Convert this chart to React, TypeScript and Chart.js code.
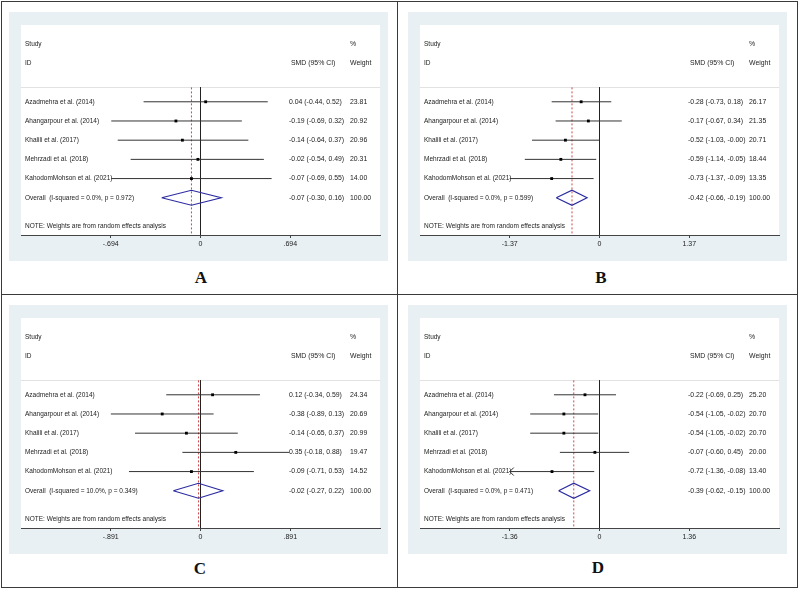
import React, { useEffect, useRef } from "react";
import { Chart, registerables } from "chart.js";
Chart.register(...registerables);

// ---------- data ----------
const studies = [
  "Azadmehra et al. (2014)",
  "Ahangarpour et al. (2014)",
  "Khalili et al. (2017)",
  "Mehrzadi et al. (2018)",
  "KahodomMohson et al. (2021)",
];

// Panel A
const smdA = [0.04, -0.19, -0.14, -0.02, -0.07];
const lowA = [-0.44, -0.69, -0.64, -0.54, -0.69];
const highA = [0.52, 0.32, 0.37, 0.49, 0.55];
const weightA = [23.81, 20.92, 20.96, 20.31, 14.0];
const overallA = [-0.07, -0.3, 0.16];
const hetA = [0.0, 0.972];
const tickValuesA = [-0.694, 0, 0.694];
const tickLabelsA = ["-.694", "0", ".694"];
const arrowsA = [false, false, false, false, false];

// Panel B
const smdB = [-0.28, -0.17, -0.52, -0.59, -0.73];
const lowB = [-0.73, -0.67, -1.03, -1.14, -1.37];
const highB = [0.18, 0.34, -0.0, -0.05, -0.09];
const weightB = [26.17, 21.35, 20.71, 18.44, 13.35];
const overallB = [-0.42, -0.66, -0.19];
const hetB = [0.0, 0.599];
const tickValuesB = [-1.37, 0, 1.37];
const tickLabelsB = ["-1.37", "0", "1.37"];
const arrowsB = [false, false, false, false, false];

// Panel C
const smdC = [0.12, -0.38, -0.14, 0.35, -0.09];
const lowC = [-0.34, -0.89, -0.65, -0.18, -0.71];
const highC = [0.59, 0.13, 0.37, 0.88, 0.53];
const weightC = [24.34, 20.69, 20.99, 19.47, 14.52];
const overallC = [-0.02, -0.27, 0.22];
const hetC = [10.0, 0.349];
const tickValuesC = [-0.891, 0, 0.891];
const tickLabelsC = ["-.891", "0", ".891"];
const arrowsC = [false, false, false, false, false];

// Panel D
const smdD = [-0.22, -0.54, -0.54, -0.07, -0.72];
const lowD = [-0.69, -1.05, -1.05, -0.6, -1.36];
const highD = [0.25, -0.02, -0.02, 0.45, -0.08];
const weightD = [25.2, 20.7, 20.7, 20.0, 13.4];
const overallD = [-0.39, -0.62, -0.15];
const hetD = [0.0, 0.471];
const tickValuesD = [-1.36, 0, 1.36];
const tickLabelsD = ["-1.36", "0", "1.36"];
const arrowsD = [false, false, false, false, true];

const panelLetters = ["A", "B", "C", "D"];

// ---------- layout / style ----------
const FONT = "'Liberation Sans', Arial, sans-serif";
const BG = "rgb(232,240,243)";
const W = 379;
const H = 249;
const ROWS = [4, 5, 6, 7, 8];
const STUDY_Y = 1;
const ID_Y = 2;
const SEP_Y = 3.25;
const OVERALL_Y = 9;
const NOTE_Y = 10.5;
const Y_MAX = 10.94;
const DIAMOND_H = 0.39;

type Panel = {
  smd: number[];
  low: number[];
  high: number[];
  weight: number[];
  overall: number[];
  het: number[];
  tickValues: number[];
  tickLabels: string[];
  arrows: boolean[];
};

const panels: Panel[] = [
  { smd: smdA, low: lowA, high: highA, weight: weightA, overall: overallA, het: hetA, tickValues: tickValuesA, tickLabels: tickLabelsA, arrows: arrowsA },
  { smd: smdB, low: lowB, high: highB, weight: weightB, overall: overallB, het: hetB, tickValues: tickValuesB, tickLabels: tickLabelsB, arrows: arrowsB },
  { smd: smdC, low: lowC, high: highC, weight: weightC, overall: overallC, het: hetC, tickValues: tickValuesC, tickLabels: tickLabelsC, arrows: arrowsC },
  { smd: smdD, low: lowD, high: highD, weight: weightD, overall: overallD, het: hetD, tickValues: tickValuesD, tickLabels: tickLabelsD, arrows: arrowsD },
];

const f2 = (v: number) => (v < 0 || Object.is(v, -0) ? "-" + Math.abs(v).toFixed(2) : v.toFixed(2));
const ci = (e: number, l: number, h: number) => `${f2(e)} (${f2(l)}, ${f2(h)})`;

function forestPlugin(p: Panel) {
  return {
    id: "forest",
    beforeDraw(chart: any) {
      const { ctx, chartArea: a, scales } = chart;
      ctx.save();
      ctx.fillStyle = BG;
      ctx.fillRect(0, 0, chart.width, chart.height);
      ctx.fillStyle = "#ffffff";
      ctx.fillRect(a.left, a.top, a.right - a.left, a.bottom - a.top);
      const ys = Math.round(scales.y.getPixelForValue(SEP_Y)) + 0.5;
      ctx.strokeStyle = "#e2e2e2";
      ctx.lineWidth = 1;
      ctx.beginPath();
      ctx.moveTo(a.left, ys);
      ctx.lineTo(a.right, ys);
      ctx.stroke();
      ctx.restore();
    },
    afterDraw(chart: any) {
      const { ctx, chartArea: a, scales } = chart;
      const y = (v: number) => scales.y.getPixelForValue(v);
      const LX = a.left + 4;
      const EX = a.left + 268;
      const WX = a.left + 329;
      ctx.save();
      ctx.fillStyle = "#222";
      ctx.textBaseline = "middle";
      ctx.textAlign = "left";
      const txt = (s: string, x: number, yy: number, size: number) => {
        ctx.font = `${size}px ${FONT}`;
        ctx.fillText(s, x, yy);
      };
      const LS = 6.5;
      const RS = 6.9;
      txt("Study", LX, y(STUDY_Y), LS);
      txt("ID", LX, y(ID_Y), LS);
      txt("%", WX, y(STUDY_Y), RS);
      txt("SMD (95% CI)", EX + 2, y(ID_Y), RS);
      txt("Weight", WX, y(ID_Y), RS);
      studies.forEach((s, i) => {
        txt(s, LX, y(ROWS[i]), LS);
        txt(ci(p.smd[i], p.low[i], p.high[i]), EX, y(ROWS[i]), RS);
        txt(p.weight[i].toFixed(2), WX, y(ROWS[i]), RS);
      });
      txt(`Overall  (I-squared = ${p.het[0].toFixed(1)}%, p = ${p.het[1].toFixed(3)})`, LX, y(OVERALL_Y), LS);
      txt(ci(p.overall[0], p.overall[1], p.overall[2]), EX, y(OVERALL_Y), RS);
      const total = p.weight.reduce((s, w) => s + w, 0);
      txt((Math.round(total / 10) * 10).toFixed(2), WX, y(OVERALL_Y), RS);
      txt("NOTE: Weights are from random effects analysis", LX, y(NOTE_Y), LS);
      // arrows for truncated CIs
      ctx.strokeStyle = "#333";
      ctx.lineWidth = 1;
      p.arrows.forEach((on, i) => {
        if (!on) return;
        const x0 = scales.x.getPixelForValue(p.low[i]);
        const y0 = y(ROWS[i]);
        ctx.beginPath();
        ctx.moveTo(x0 + 4, y0 - 4);
        ctx.lineTo(x0, y0);
        ctx.lineTo(x0 + 4, y0 + 4);
        ctx.stroke();
      });
      ctx.restore();
    },
  };
}

function ForestPanel({ p, left, top }: { p: Panel; left: number; top: number }) {
  const ref = useRef<HTMLCanvasElement>(null);
  useEffect(() => {
    const canvas = ref.current!;
    const t = p.tickValues[2];
    const ciSets = p.low.map((lo, i) => ({
      data: [
        { x: lo, y: ROWS[i] },
        { x: p.high[i], y: ROWS[i] },
      ],
      showLine: true,
      borderColor: "#333",
      borderWidth: 1,
      pointRadius: 0,
      order: 5,
    }));
    const [oe, ol, oh] = p.overall;
    const chart = new Chart(canvas, {
      type: "scatter",
      data: {
        datasets: [
          {
            data: p.smd.map((v, i) => ({ x: v, y: ROWS[i] })),
            pointStyle: "rect",
            pointRadius: 2,
            backgroundColor: "#000",
            borderColor: "#000",
            borderWidth: 0,
            showLine: false,
            order: 1,
          },
          {
            data: [
              { x: ol, y: OVERALL_Y },
              { x: oe, y: OVERALL_Y - DIAMOND_H },
              { x: oh, y: OVERALL_Y },
              { x: oe, y: OVERALL_Y + DIAMOND_H },
              { x: ol, y: OVERALL_Y },
            ],
            showLine: true,
            borderColor: "#2b2ba0",
            borderWidth: 1.2,
            pointRadius: 0,
            order: 2,
          },
          ...ciSets,
          {
            data: [
              { x: 0, y: SEP_Y },
              { x: 0, y: Y_MAX },
            ],
            showLine: true,
            borderColor: "#222",
            borderWidth: 1,
            pointRadius: 0,
            order: 9,
          },
          {
            data: [
              { x: oe, y: SEP_Y },
              { x: oe, y: Y_MAX },
            ],
            showLine: true,
            borderColor: "#d04848",
            borderWidth: 1,
            borderDash: [2, 2],
            pointRadius: 0,
            order: 8,
          },
        ] as any,
      },
      options: {
        animation: false,
        responsive: false,
        maintainAspectRatio: false,
        devicePixelRatio: 1,
        events: [],
        layout: { padding: { left: 12, right: 8, top: 13, bottom: 10.6 } },
        plugins: { legend: { display: false }, tooltip: { enabled: false } },
        scales: {
          x: {
            type: "linear",
            position: "bottom",
            min: -2 * t,
            max: 2 * t,
            afterBuildTicks: (axis: any) => {
              axis.ticks = p.tickValues.map((v) => ({ value: v }));
            },
            ticks: {
              callback: (_v: any, i: number) => p.tickLabels[i],
              font: { size: 7, family: FONT },
              color: "#222",
              padding: 2,
              maxRotation: 0,
              autoSkip: false,
            },
            grid: { drawOnChartArea: false, drawTicks: true, tickLength: 3, color: "#444" },
            border: { display: true, color: "#444", width: 1 },
          },
          y: { type: "linear", reverse: true, min: 0, max: Y_MAX, display: false },
        },
      } as any,
      plugins: [forestPlugin(p)],
    });
    return () => chart.destroy();
  }, [p]);
  return (
    <canvas
      ref={ref}
      width={W}
      height={H}
      style={{ position: "absolute", left, top, width: W, height: H }}
    />
  );
}

const positions = [
  [9, 12],
  [408, 12],
  [9, 305],
  [408, 305],
];
const letterPos = [
  [201, 277],
  [601, 277],
  [200, 568],
  [598, 567],
];

export default function App() {
  const line = "#3a3a3a";
  return (
    <div style={{ position: "absolute", left: 0, top: 0, width: 799, height: 589, background: "#fff" }}>
      <div
        style={{
          position: "absolute",
          left: 1,
          top: 1,
          width: 797,
          height: 587,
          border: `1px solid ${line}`,
          boxSizing: "border-box",
        }}
      />
      <div style={{ position: "absolute", left: 397, top: 1, width: 1, height: 587, background: line }} />
      <div style={{ position: "absolute", left: 1, top: 294, width: 797, height: 1, background: line }} />
      {panels.map((p, i) => (
        <ForestPanel key={i} p={p} left={positions[i][0]} top={positions[i][1]} />
      ))}
      {panelLetters.map((l, i) => (
        <div
          key={l}
          style={{
            position: "absolute",
            left: letterPos[i][0],
            top: letterPos[i][1],
            transform: "translate(-50%, -50%)",
            font: "bold 17px 'Liberation Serif', 'Times New Roman', serif",
            color: "#111",
            lineHeight: 1,
          }}
        >
          {l}
        </div>
      ))}
    </div>
  );
}
